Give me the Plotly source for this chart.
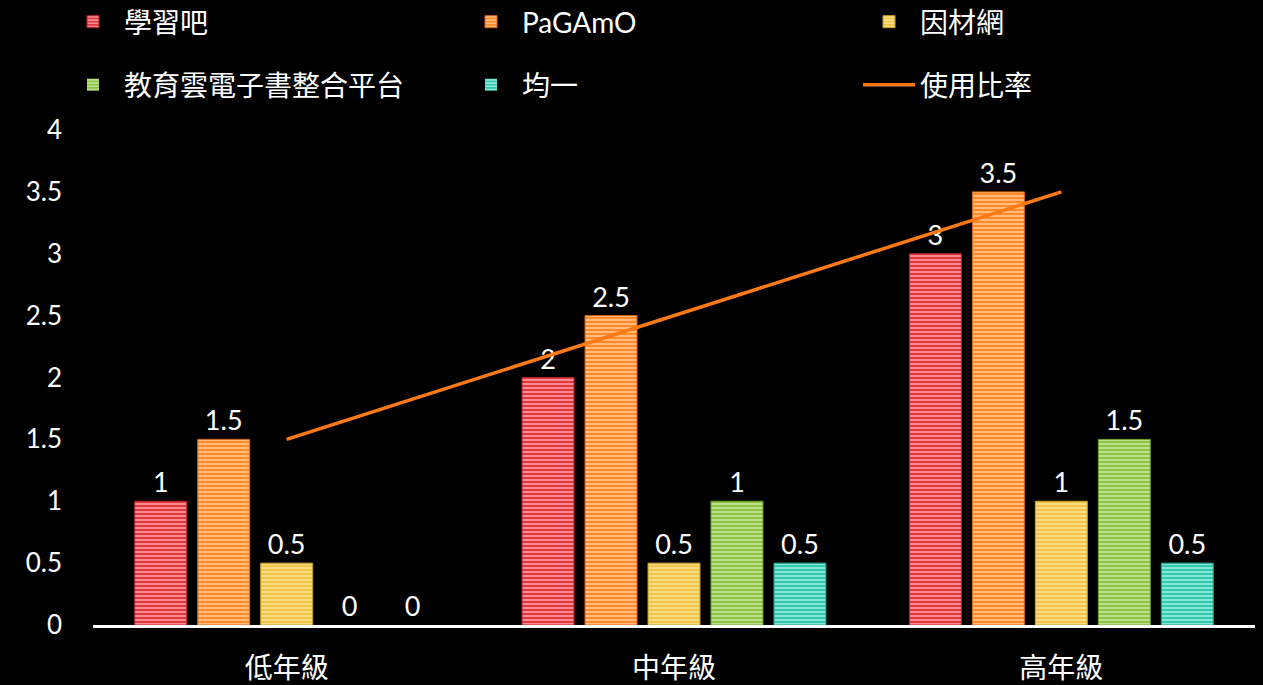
import plotly.graph_objects as go

categories = ["低年級", "中年級", "高年級"]
series_names = ["學習吧", "PaGAmO", "因材網", "教育雲電子書整合平台", "均一"]
series_values = [
    [1, 2, 3],
    [1.5, 2.5, 3.5],
    [0.5, 0.5, 1],
    [0, 1, 1.5],
    [0, 0.5, 0.5],
]
line_name = "使用比率"
line_values = [1.5, 2.5, 3.5]
y_ticks = [0, 0.5, 1, 1.5, 2, 2.5, 3, 3.5, 4]

bar_colors = ["#E5343C", "#FF8A25", "#F2C643", "#8CC63E", "#2ECBAE"]
stripe_colors = ["#F7B5B8", "#FFD0A8", "#FAE7A8", "#D4EBB5", "#B3EFE3"]
edge_colors = ["#B8242B", "#D9691A", "#C9A02A", "#6FA02C", "#22A08A"]

FONT = "Lato, 'Noto Sans CJK TC', sans-serif"

# legend slots: (column left px, row center px)
legend_cols = [62, 460, 858]
legend_rows = [22, 85]
legend_ids = ["legend", "legend2", "legend3", "legend4", "legend5", "legend6"]

fig = go.Figure()
for i, (name, vals, c, s, e) in enumerate(zip(series_names, series_values, bar_colors, stripe_colors, edge_colors)):
    fig.add_trace(go.Bar(
        name=name, x=categories, y=vals, legend=legend_ids[i],
        marker=dict(color=c, line=dict(color=e, width=[0 if v == 0 else 1 for v in vals]),
                    pattern=dict(shape="-", fgcolor=s, bgcolor=c, size=4, solidity=0.35, fillmode="replace")),
        text=[f"{v:g}" for v in vals], textposition="outside",
        textfont=dict(color="white", size=27, family=FONT),
        cliponaxis=False,
    ))

fig.add_trace(go.Scatter(
    name=line_name, x=categories, y=line_values, mode="lines", legend=legend_ids[5],
    line=dict(color="#FF7A14", width=3.5),
))

W, H = 1263, 685
legend_layout = {}
for k, lid in enumerate(legend_ids):
    col, row = k % 3, k // 3
    legend_layout[lid] = dict(
        orientation="v", xref="container", yref="container",
        x=legend_cols[col] / W, y=1 - legend_rows[row] / H,
        xanchor="left", yanchor="middle",
        itemwidth=52, font=dict(size=28, color="white", family=FONT),
        bgcolor="rgba(0,0,0,0)",
    )

fig.update_layout(
    width=W, height=H,
    paper_bgcolor="black", plot_bgcolor="black",
    font=dict(family=FONT, color="white", size=26),
    barmode="group", bargap=0.187, bargroupgap=0.175,
    margin=dict(l=93, r=8, t=130, b=60, autoexpand=False),
    showlegend=True,
    **legend_layout,
)
fig.update_yaxes(
    range=[0, 4], tickvals=y_ticks, ticktext=[f"{v:g}" for v in y_ticks],
    showgrid=False, zeroline=False, showline=False,
    tickfont=dict(size=26, color="white"), ticklabelstandoff=30,
)
fig.update_xaxes(
    showgrid=False, showline=True, linecolor="white", linewidth=3,
    tickfont=dict(size=28, color="white"), ticks="", ticklabelstandoff=16,
)

fig.write_html(
    "out.html",
    config={"displayModeBar": False},
    post_script="document.body.style.margin='0';document.body.style.background='black';document.documentElement.style.background='black';",
)
